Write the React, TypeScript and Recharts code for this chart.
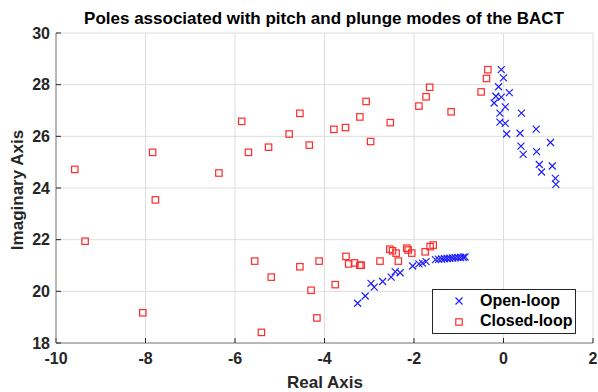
import React from "react";
import {
  ScatterChart,
  Scatter,
  XAxis,
  YAxis,
  CartesianGrid,
  Legend,
} from "recharts";

// open-loop poles (real / imaginary parts)
const openReal = [
  -0.05, 0.0, -0.11, 0.13, -0.17, -0.05, -0.21, 0.04, -0.08, 0.4, -0.08, 0.04,
  0.73, 0.07, 0.37, 1.05, 0.39, 0.44, 0.74, 0.8, 1.09, 0.85, 1.16, 1.17,
  -3.26, -3.09, -2.96, -2.89, -2.7, -2.51, -2.42, -2.31, -2.03, -1.89, -1.81,
  -1.73, -1.52, -1.45, -1.38, -1.32, -1.26, -1.2, -1.14, -1.08, -1.02, -0.96,
  -0.9, -0.86,
];
const openImag = [
  28.58, 28.26, 27.92, 27.69, 27.55, 27.52, 27.29, 27.14, 26.9, 26.9, 26.55,
  26.5, 26.28, 26.09, 26.12, 25.76, 25.62, 25.3, 25.41, 24.91, 24.85, 24.62,
  24.37, 24.14,
  19.54, 19.82, 20.31, 20.16, 20.38, 20.55, 20.76, 20.72, 20.98, 21.06, 21.09,
  21.15, 21.23, 21.24, 21.25, 21.26, 21.27, 21.28, 21.29, 21.3, 21.31, 21.31,
  21.32, 21.33,
];

// closed-loop poles
const closedReal = [
  -9.58, -7.84, -6.36, -7.78, -5.85, -5.7, -5.25, -4.79, -4.55, -4.34, -3.79,
  -3.53, -3.21, -3.07, -2.97, -2.53, -1.89, -1.73, -1.65, -1.17, -0.5, -0.38,
  -0.35,
  -9.35, -8.06, -5.56, -5.19, -5.41, -4.55, -4.12, -4.3, -4.17, -3.76, -3.52,
  -3.46, -3.33, -3.21, -3.18, -2.76, -2.54, -2.48, -2.4, -2.35, -2.16, -2.13,
  -2.05, -1.75, -1.64, -1.57,
];
const closedImag = [
  24.72, 25.38, 24.58, 23.54, 26.58, 25.38, 25.58, 26.09, 26.89, 25.66, 26.27,
  26.34, 26.75, 27.35, 25.8, 26.53, 27.17, 27.53, 27.9, 26.95, 27.72, 28.24,
  28.58,
  21.94, 19.17, 21.17, 20.55, 18.41, 20.95, 21.17, 20.04, 18.97, 20.26, 21.35,
  21.06, 21.1, 21.01, 21.01, 21.17, 21.63, 21.57, 21.48, 21.17, 21.67, 21.6,
  21.48, 21.53, 21.73, 21.79,
];

const xTicks = [-10, -8, -6, -4, -2, 0, 2];
const yTicks = [18, 20, 22, 24, 26, 28, 30];

const openData = openReal.map((re, i) => ({ re, im: openImag[i] }));
const closedData = closedReal.map((re, i) => ({ re, im: closedImag[i] }));

const BLUE = "#1f1fff";
const RED = "#ff2a2a";
const FONT = "'Liberation Sans', Arial, sans-serif";
const tickStyle = { fill: "#262626", fontSize: 16, fontWeight: 700, fontFamily: FONT };
const frame = "#808080";

const XMark = (props: any) => {
  const { cx, cy } = props;
  const s = 3.5;
  return (
    <path
      d={`M${cx - s},${cy - s}L${cx + s},${cy + s}M${cx - s},${cy + s}L${cx + s},${cy - s}`}
      stroke={BLUE}
      strokeWidth={1.2}
      fill="none"
    />
  );
};

const SquareMark = (props: any) => {
  const { cx, cy } = props;
  const s = 3.2;
  return (
    <rect x={cx - s} y={cy - s} width={2 * s} height={2 * s} stroke={RED} strokeWidth={1.2} fill="none" />
  );
};

const LegendBox = () => (
  <div
    style={{
      width: 144,
      height: 45,
      border: "1px solid #262626",
      background: "#fff",
      fontFamily: FONT,
      fontWeight: 700,
      fontSize: 16,
      color: "#000",
      boxSizing: "border-box",
      position: "relative",
    }}
  >
    <svg width={20} height={43} style={{ position: "absolute", left: 16, top: 0 }}>
      <XMark cx={10} cy={11} />
      <SquareMark cx={10} cy={32} />
    </svg>
    <div style={{ position: "absolute", left: 47, top: 3, lineHeight: "16px", whiteSpace: "nowrap" }}>Open-loop</div>
    <div style={{ position: "absolute", left: 47, top: 23, lineHeight: "16px", whiteSpace: "nowrap" }}>Closed-loop</div>
  </div>
);

export default function App() {
  return (
    <div style={{ position: "absolute", left: 0, top: 0, width: 598, height: 392, background: "#fff" }}>
      <ScatterChart
        width={598}
        height={392}
        margin={{ top: 33, right: 5, bottom: 0, left: 0 }}
      >
        <CartesianGrid stroke="#dedede" vertical horizontal />
        <XAxis
          type="number"
          dataKey="re"
          domain={[-10, 2]}
          ticks={xTicks}
          height={49}
          tickSize={-5}
          tickMargin={15}
          tick={tickStyle}
          axisLine={{ stroke: frame }}
          tickLine={{ stroke: "#262626" }}
          allowDataOverflow
        />
        <XAxis
          xAxisId="top"
          orientation="top"
          type="number"
          domain={[-10, 2]}
          ticks={xTicks}
          height={0}
          tickSize={-5}
          tickFormatter={() => ""}
          axisLine={{ stroke: frame }}
          tickLine={{ stroke: "#262626" }}
        />
        <YAxis
          type="number"
          dataKey="im"
          domain={[18, 30]}
          ticks={yTicks}
          width={56}
          tickSize={-5}
          tickMargin={11}
          tick={tickStyle}
          axisLine={{ stroke: frame }}
          tickLine={{ stroke: "#262626" }}
          allowDataOverflow
        />
        <YAxis
          yAxisId="right"
          orientation="right"
          type="number"
          domain={[18, 30]}
          ticks={yTicks}
          width={0}
          tickSize={-5}
          tickFormatter={() => ""}
          axisLine={{ stroke: frame }}
          tickLine={{ stroke: "#262626" }}
        />
        <Scatter name="Open-loop" data={openData} shape={XMark} isAnimationActive={false} />
        <Scatter name="Closed-loop" data={closedData} shape={SquareMark} isAnimationActive={false} />
        <Legend
          layout="horizontal"
          align="center"
          verticalAlign="middle"
          wrapperStyle={{ position: "absolute", left: 432, top: 289, width: 144, height: 45 }}
          content={() => <LegendBox />}
        />
        <text x={324} y={24} textAnchor="middle" fontFamily={FONT} fontWeight={700} fontSize={17} fill="#000">
          Poles associated with pitch and plunge modes of the BACT
        </text>
        <text x={325} y={388} textAnchor="middle" fontFamily={FONT} fontWeight={700} fontSize={17} fill="#262626">
          Real Axis
        </text>
        <text
          x={0}
          y={0}
          transform="translate(23,190) rotate(-90)"
          textAnchor="middle"
          fontFamily={FONT}
          fontWeight={700}
          fontSize={17}
          fill="#262626"
        >
          Imaginary Axis
        </text>
      </ScatterChart>
    </div>
  );
}
